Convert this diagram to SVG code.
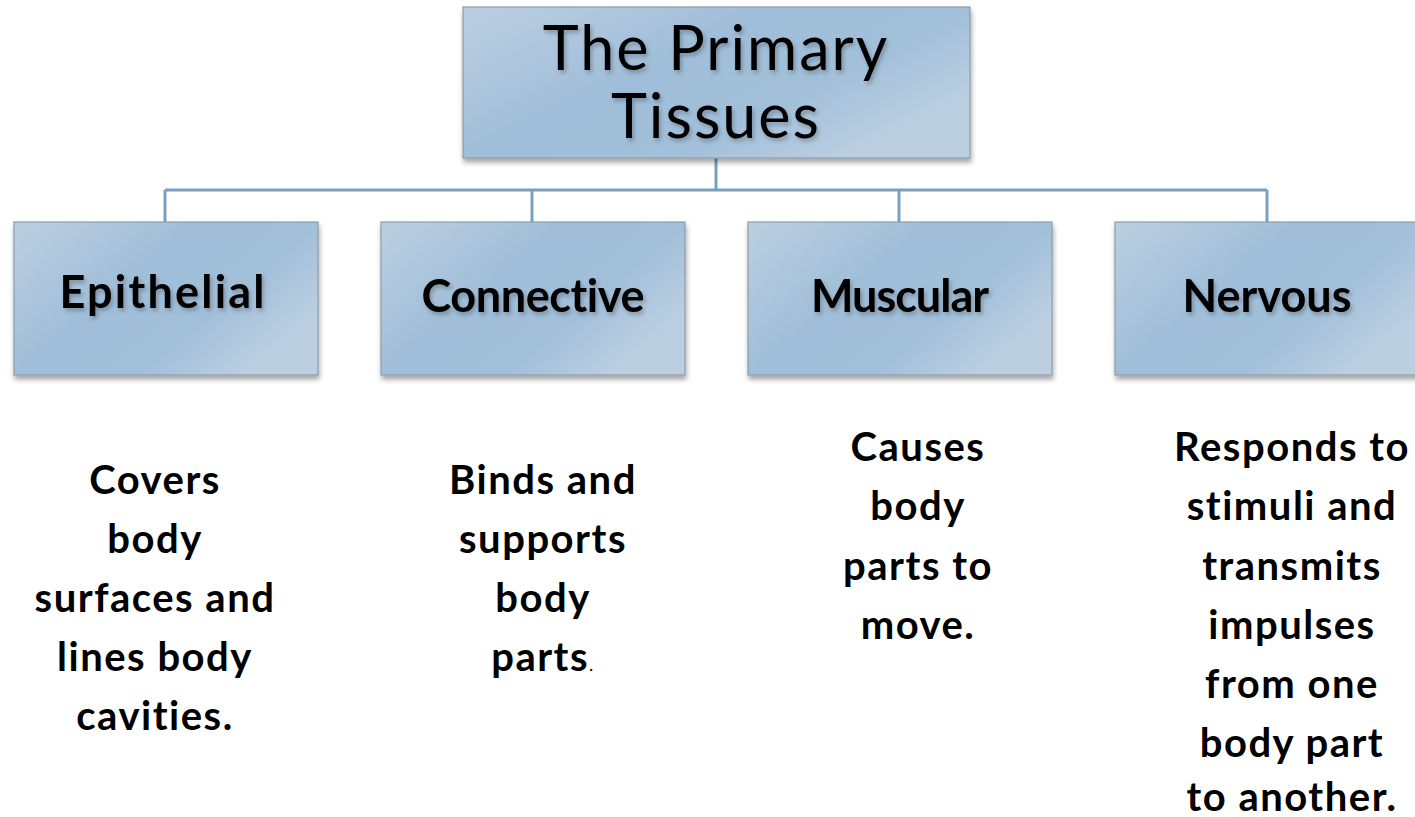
<svg xmlns="http://www.w3.org/2000/svg" width="1415" height="817" viewBox="0 0 1415 817">
<defs>
<linearGradient id="boxg" x1="0" y1="0" x2="1" y2="0.6">
<stop offset="0" stop-color="#bccfe1"/>
<stop offset="0.45" stop-color="#a0bed9"/>
<stop offset="0.75" stop-color="#a3c0da"/>
<stop offset="1" stop-color="#bccfe1"/>
</linearGradient>
<filter id="sh" x="-10%" y="-10%" width="125%" height="130%">
<feDropShadow dx="1" dy="4" stdDeviation="2.5" flood-color="#000" flood-opacity="0.35"/>
</filter>
<filter id="tsh" x="-10%" y="-20%" width="130%" height="150%">
<feDropShadow dx="2" dy="3" stdDeviation="2" flood-color="#000" flood-opacity="0.25"/>
</filter>
</defs>
<style>
.box{fill:url(#boxg);stroke:#8c9cab;stroke-width:1.2}
.conn{fill:none;stroke:#7a9fc0;stroke-width:3}
text{font-variant-ligatures:none}
.title{font-family:Lato,"Open Sans",sans-serif;font-size:61px;letter-spacing:2px;fill:#000;text-anchor:middle}
.head{font-family:Lato,"Open Sans",sans-serif;font-size:45px;font-weight:bold;fill:#000;text-anchor:middle}
.desc{font-family:Lato,"Open Sans",sans-serif;font-size:40px;letter-spacing:1.5px;font-weight:bold;fill:#000;text-anchor:middle}
</style>
<g id="connectors">
<path class="conn" d="M716,158 V190 M165,190 H1267 M165,190 V222 M532,190 V222 M899,190 V222 M1267,190 V222"/>
</g>
<g id="root">
<rect class="box" x="463" y="7" width="507" height="151" filter="url(#sh)"/>
<text class="title" x="716" y="70" filter="url(#tsh)">The Primary</text>
<text class="title" x="716" y="138" filter="url(#tsh)">Tissues</text>
</g>
<g id="epithelial">
<rect class="box" x="14" y="222" width="304" height="153" filter="url(#sh)"/>
<text class="head" x="162" y="308" textLength="205" lengthAdjust="spacing" filter="url(#tsh)">Epithelial</text>
</g>
<g id="connective">
<rect class="box" x="381" y="222" width="304" height="153" filter="url(#sh)"/>
<text class="head" x="533" y="312" textLength="223" lengthAdjust="spacing" filter="url(#tsh)">Connective</text>
</g>
<g id="muscular">
<rect class="box" x="748" y="222" width="304" height="153" filter="url(#sh)"/>
<text class="head" x="900" y="312" textLength="178" lengthAdjust="spacing" filter="url(#tsh)">Muscular</text>
</g>
<g id="nervous">
<rect class="box" x="1115" y="222" width="304" height="153" filter="url(#sh)"/>
<text class="head" x="1267" y="312" textLength="169" lengthAdjust="spacing" filter="url(#tsh)">Nervous</text>
</g>
<g id="desc-epithelial">
<text class="desc" x="155" y="494">Covers</text>
<text class="desc" x="155" y="553">body</text>
<text class="desc" x="155" y="612">surfaces and</text>
<text class="desc" x="155" y="671">lines body</text>
<text class="desc" x="155" y="730">cavities.</text>
</g>
<g id="desc-connective">
<text class="desc" x="543" y="494">Binds and</text>
<text class="desc" x="543" y="553">supports</text>
<text class="desc" x="543" y="612">body</text>
<text class="desc" x="543" y="671">parts<tspan style="font-size:18px;font-weight:normal">.</tspan></text>
</g>
<g id="desc-muscular">
<text class="desc" x="918" y="461">Causes</text>
<text class="desc" x="918" y="520">body</text>
<text class="desc" x="918" y="580">parts to</text>
<text class="desc" x="918" y="639">move.</text>
</g>
<g id="desc-nervous">
<text class="desc" x="1292" y="461">Responds to</text>
<text class="desc" x="1292" y="520">stimuli and</text>
<text class="desc" x="1292" y="580">transmits</text>
<text class="desc" x="1292" y="639">impulses</text>
<text class="desc" x="1292" y="698">from one</text>
<text class="desc" x="1292" y="757">body part</text>
<text class="desc" x="1292" y="811">to another.</text>
</g>
</svg>
